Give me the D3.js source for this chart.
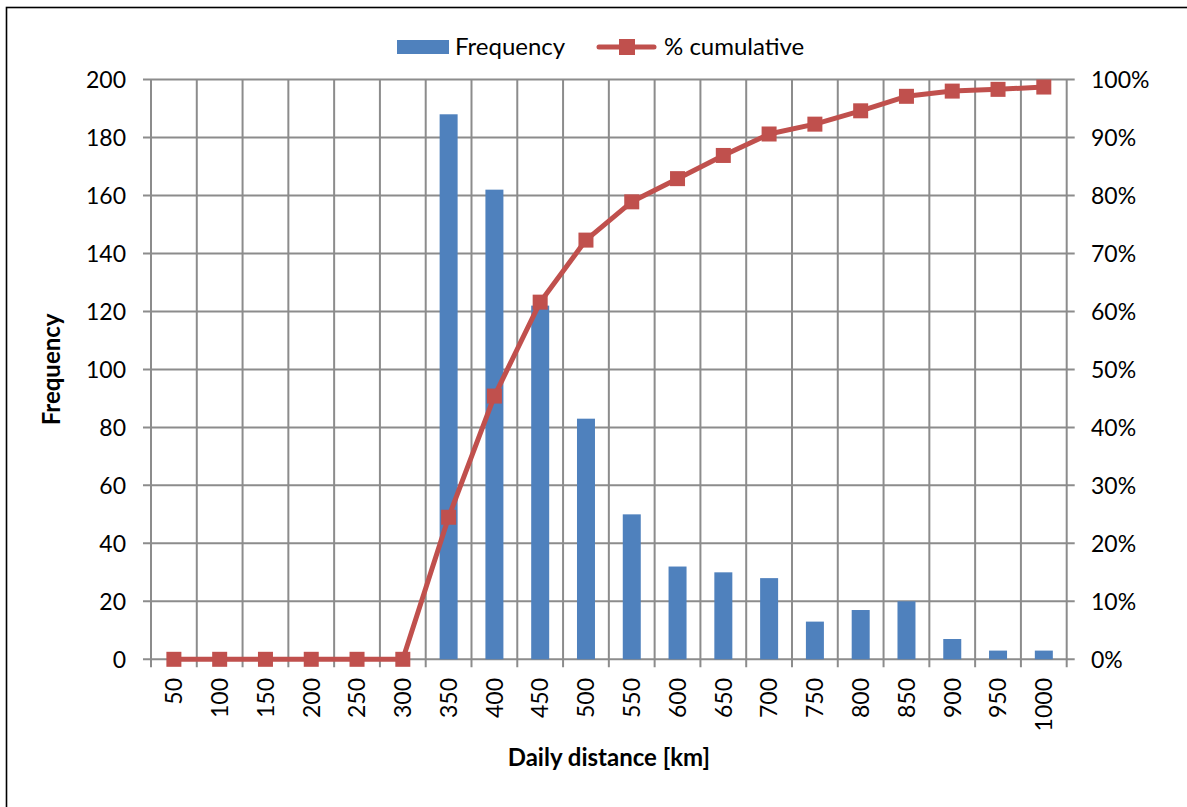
<!DOCTYPE html>
<html>
<head>
<meta charset="utf-8">
<script src="https://cdn.jsdelivr.net/npm/d3@7"></script>
<style>
  html, body { margin: 0; padding: 0; background: #fff; }
  svg { display: block; font-family: Lato, "Open Sans", sans-serif; }
</style>
</head>
<body>
<svg id="chart" width="1187" height="807"></svg>
<script>
const categories = ["50","100","150","200","250","300","350","400","450","500","550","600","650","700","750","800","850","900","950","1000"];
const frequency = [0,0,0,0,0,0,188,162,122,83,50,32,30,28,13,17,20,7,3,3];
const cumulativePct = [0,0,0,0,0,0,24.5,45.4,61.6,72.3,78.9,82.9,86.9,90.6,92.3,94.6,97.1,98.0,98.3,98.7];
const leftTicks = [0,20,40,60,80,100,120,140,160,180,200];
const rightTicks = [0,10,20,30,40,50,60,70,80,90,100];

const L = 151, R = 1066.7, T = 79.5, B = 659.3;
const barColor = "#4F81BD", lineColor = "#C0504D", gridColor = "#8C8C8C";

const svg = d3.select("#chart");

// outer border
svg.append("rect").attr("x", 6.5).attr("y", 7.5).attr("width", 1300).attr("height", 900)
  .attr("fill", "none").attr("stroke", "#000").attr("stroke-width", 1.6);

const x = d3.scaleBand().domain(categories).range([L, R]).padding(0);
const yL = d3.scaleLinear().domain([0, 200]).range([B, T]);
const yR = d3.scaleLinear().domain([0, 100]).range([B, T]);
const bw = x.bandwidth();

// horizontal gridlines (with ticks on both sides)
svg.append("g").selectAll("line").data(leftTicks).join("line")
  .attr("x1", L - 8).attr("x2", R + 8)
  .attr("y1", d => yL(d)).attr("y2", d => yL(d))
  .attr("stroke", gridColor).attr("stroke-width", 2);

// vertical gridlines at category boundaries (with tick marks below)
const bounds = categories.map(c => x(c)).concat([R]);
svg.append("g").selectAll("line").data(bounds).join("line")
  .attr("x1", d => d).attr("x2", d => d)
  .attr("y1", T).attr("y2", B + 8)
  .attr("stroke", gridColor).attr("stroke-width", 2);

// bars
svg.append("g").selectAll("rect").data(frequency).join("rect")
  .attr("x", (d, i) => x(categories[i]) + bw * 0.304)
  .attr("width", bw * 0.393)
  .attr("y", d => yL(d))
  .attr("height", d => B - yL(d))
  .attr("fill", barColor);

// cumulative line
const line = d3.line()
  .x((d, i) => x(categories[i]) + bw / 2)
  .y(d => yR(d));
svg.append("path").datum(cumulativePct)
  .attr("d", line).attr("fill", "none")
  .attr("stroke", lineColor).attr("stroke-width", 5).attr("stroke-linejoin", "round");
const ms = 15;
svg.append("g").selectAll("rect").data(cumulativePct).join("rect")
  .attr("x", (d, i) => x(categories[i]) + bw / 2 - ms / 2)
  .attr("y", d => yR(d) - ms / 2)
  .attr("width", ms).attr("height", ms)
  .attr("fill", lineColor);

// left tick labels
svg.append("g").selectAll("text").data(leftTicks).join("text")
  .attr("x", 126).attr("y", d => yL(d))
  .attr("dy", "0.36em").attr("text-anchor", "end")
  .attr("font-size", 23).attr("fill", "#000").text(d => d);

// right tick labels
svg.append("g").selectAll("text").data(rightTicks).join("text")
  .attr("x", 1091).attr("y", d => yR(d))
  .attr("dy", "0.36em").attr("text-anchor", "start")
  .attr("font-size", 23).attr("fill", "#000").text(d => d + "%");

// x tick labels, rotated
svg.append("g").selectAll("text").data(categories).join("text")
  .attr("transform", c => `translate(${x(c) + bw / 2},${678}) rotate(-90)`)
  .attr("dy", "0.36em").attr("text-anchor", "end")
  .attr("font-size", 23).attr("fill", "#000").text(c => c);

// axis titles
svg.append("text")
  .attr("transform", `translate(60,${(T + B) / 2}) rotate(-90)`)
  .attr("text-anchor", "middle").attr("font-size", 24).attr("font-weight", "bold")
  .text("Frequency");
svg.append("text")
  .attr("x", (L + R) / 2).attr("y", 766)
  .attr("text-anchor", "middle").attr("font-size", 24).attr("font-weight", "bold")
  .text("Daily distance [km]");

// legend
const lg = svg.append("g");
lg.append("rect").attr("x", 397).attr("y", 40).attr("width", 52).attr("height", 14).attr("fill", barColor);
lg.append("text").attr("x", 455).attr("y", 55).attr("font-size", 24).text("Frequency");
lg.append("line").attr("x1", 599).attr("x2", 654).attr("y1", 47).attr("y2", 47)
  .attr("stroke", lineColor).attr("stroke-width", 5).attr("stroke-linecap", "round");
lg.append("rect").attr("x", 627 - 8).attr("y", 47 - 8).attr("width", 16).attr("height", 16).attr("fill", lineColor);
lg.append("text").attr("x", 664).attr("y", 55).attr("font-size", 24).text("% cumulative");
</script>
</body>
</html>
